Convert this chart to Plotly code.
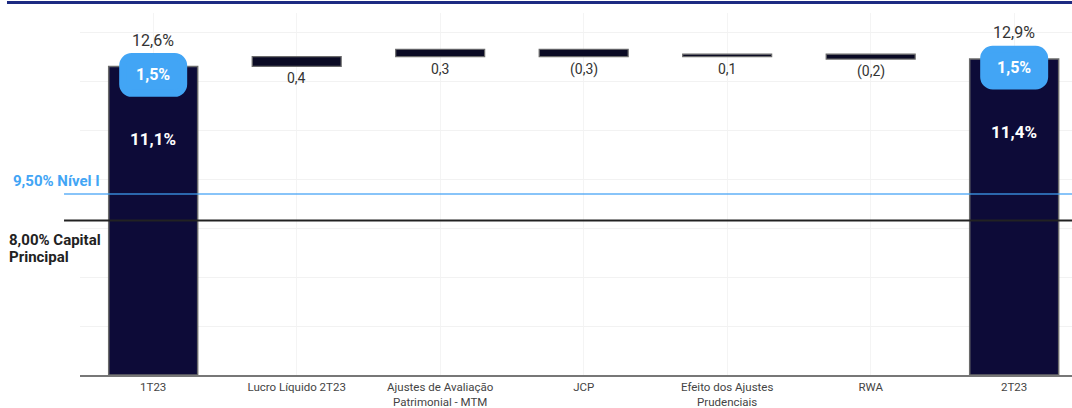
import plotly.graph_objects as go

# ---------------- data ----------------
categories = ["1T23", "Lucro Líquido 2T23", "Ajustes de Avaliação Patrimonial - MTM",
              "JCP", "Efeito dos Ajustes Prudenciais", "RWA", "2T23"]
tick_labels = ["1T23", "Lucro Líquido 2T23", "Ajustes de Avaliação<br>Patrimonial - MTM",
               "JCP", "Efeito dos Ajustes<br>Prudenciais", "RWA", "2T23"]
cet1 = [11.1, 11.4]          # Capital principal (1T23, 2T23)
at1 = [1.5, 1.5]             # Capital complementar (1T23, 2T23)
deltas = [0.4, 0.3, -0.3, 0.1, -0.2]
nivel1_min = 9.5
capital_principal_min = 8.0

# ---------------- styles ----------------
NAVY = "#0d0b38"
BADGE = "#42a5f5"
FONT = "Roboto"
LIFT = 0.4  # badge lift above the CET1 level (style)


def pt(v):
    return f"{v:.1f}".replace(".", ",")


def dlabel(d):
    return pt(abs(d)) if d >= 0 else f"({pt(abs(d))})"


totals = [round(c + a, 1) for c, a in zip(cet1, at1)]
end_cats = [categories[0], categories[-1]]
mid_cats = categories[1:-1]

bases = []
run = totals[0]
for d in deltas:
    bases.append(run)
    run = round(run + d, 1)

fig = go.Figure()

fig.add_trace(go.Bar(
    x=end_cats, y=totals, width=0.62,
    marker=dict(color=NAVY, line=dict(color="#6b6b6b", width=1.5)),
    hoverinfo="skip", showlegend=False))

fig.add_trace(go.Bar(
    x=mid_cats, y=deltas, base=bases, width=0.62,
    marker=dict(color="#0a0a24", line=dict(color="#6b6b6b", width=1.2)),
    hoverinfo="skip", showlegend=False))

fig.add_trace(go.Bar(
    x=end_cats, y=at1, base=[c + LIFT for c in cet1], width=0.425,
    marker=dict(color=BADGE, line=dict(color=BADGE, width=7), cornerradius=9),
    text=[f"<b>{pt(a)}%</b>" for a in at1], textposition="inside",
    insidetextanchor="middle", textangle=0,
    textfont=dict(color="white", size=16, family=FONT),
    hoverinfo="skip", showlegend=False))

ann = []
for cat, c, a, t in zip(end_cats, cet1, at1, totals):
    ann.append(dict(x=cat, y=c + LIFT + a, yanchor="bottom", yshift=5, showarrow=False,
                    text=f"{pt(t)}%", font=dict(size=16, color="#333333", family=FONT)))
    ann.append(dict(x=cat, y=c, yanchor="middle", yshift=-36, showarrow=False,
                    text=f"<b>{pt(c)}%</b>", font=dict(size=17, color="white", family=FONT)))
for cat, b, d in zip(mid_cats, bases, deltas):
    ann.append(dict(x=cat, y=min(b, b + d), yanchor="top", yshift=-2, showarrow=False,
                    text=dlabel(d), font=dict(size=14, color="#333333", family=FONT)))

ann.append(dict(xref="paper", x=-0.0695, xanchor="left", yref="y2", y=nivel1_min,
                yanchor="bottom", yshift=2, showarrow=False,
                text=f"<b>{nivel1_min:.2f}%".replace(".", ",") + " Nível I</b>",
                font=dict(size=15, color="#42a5f5", family=FONT)))
ann.append(dict(xref="paper", x=-0.0736, xanchor="left", align="left", yref="y2",
                y=capital_principal_min, yanchor="top", yshift=-9, showarrow=False,
                text=f"<b>{capital_principal_min:.2f}%".replace(".", ",") + " Capital</b>",
                font=dict(size=15, color="#222222", family=FONT)))
ann.append(dict(xref="paper", x=-0.0736, xanchor="left", align="left", yref="y2",
                y=capital_principal_min, yanchor="top", yshift=-26, showarrow=False,
                text="<b>Principal</b>",
                font=dict(size=15, color="#222222", family=FONT)))

shapes = [
    dict(type="line", xref="paper", x0=-0.0161, x1=1, yref="y2",
         y0=nivel1_min, y1=nivel1_min, line=dict(color="rgba(63,160,245,0.62)", width=2)),
    dict(type="line", xref="paper", x0=-0.0161, x1=1, yref="y2",
         y0=capital_principal_min, y1=capital_principal_min, line=dict(color="#222222", width=2)),
    dict(type="line", xref="paper", x0=-0.0736, x1=1, yref="paper",
         y0=1.029, y1=1.029, line=dict(color="#1c2a82", width=3)),
]

fig.update_layout(
    width=1072, height=408,
    margin=dict(l=80, r=0, t=13, b=33),
    barmode="overlay",
    plot_bgcolor="white", paper_bgcolor="white",
    font=dict(family=FONT, size=11.5, color="#444444"),
    annotations=ann, shapes=shapes,
    xaxis=dict(type="category", categoryorder="array", categoryarray=categories,
               tickvals=categories, ticktext=tick_labels, range=[-0.51, 6.403],
               showgrid=True, gridcolor="#f4f4f4", gridwidth=1,
               showline=True, linecolor="#777777", linewidth=2,
               ticks="", automargin=False,
               tickfont=dict(size=11.5, color="#444444", family=FONT)),
    yaxis=dict(range=[0, 14.78], dtick=2, showgrid=True, gridcolor="#f2f2f2",
               zeroline=False, showticklabels=False, ticks="", automargin=False),
    yaxis2=dict(range=[-0.747, 19.74], overlaying="y", visible=False),
)

fig.write_html("out.html", config={"displayModeBar": False},
               post_script="document.body.style.margin='0';")
